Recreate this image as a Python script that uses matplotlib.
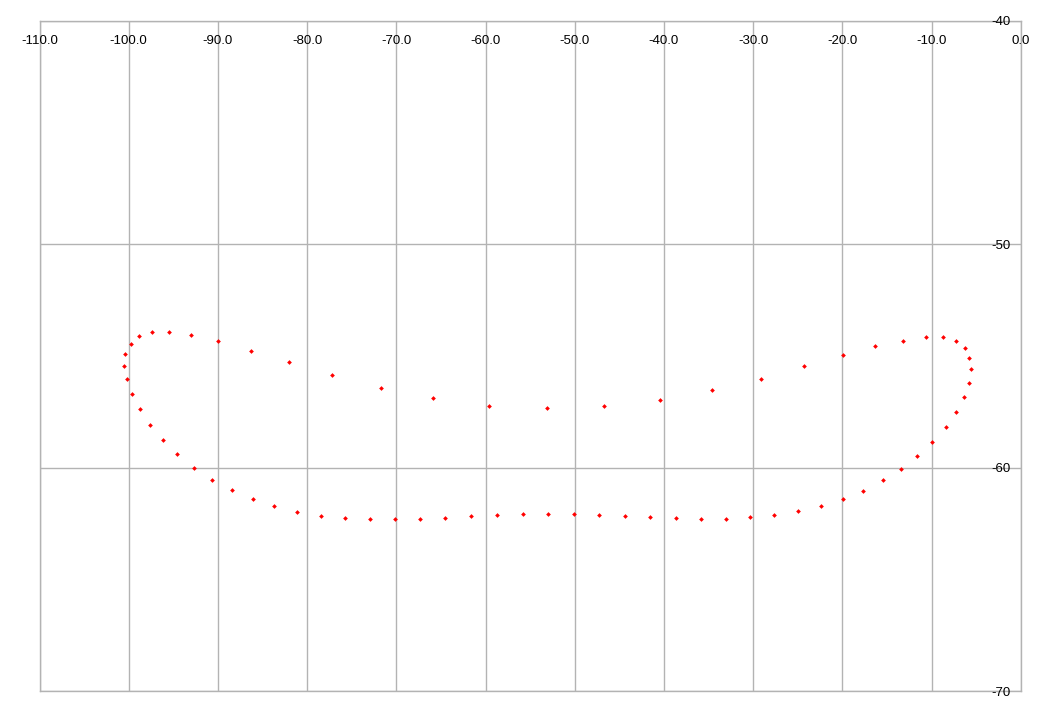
import matplotlib.pyplot as plt
from matplotlib.ticker import FormatStrFormatter, MultipleLocator

plt.rcParams['font.family'] = ['Liberation Sans', 'DejaVu Sans']

# points, going round the loop
x_vals = [-97.42, -95.51, -93.03, -90.00, -86.29, -82.02, -77.19, -71.72,
          -65.84, -59.58, -53.15, -46.74, -40.45, -34.61, -29.10, -24.27,
          -19.96, -16.29, -13.18, -10.67, -8.76, -7.30, -6.29, -5.82,
          -5.62, -5.84, -6.40, -7.30, -8.43, -9.89, -11.57, -13.37,
          -15.39, -17.64, -19.96, -22.36, -24.94, -27.64, -30.34, -33.03,
          -35.88, -38.65, -41.57, -44.38, -47.30, -50.11, -53.03, -55.84,
          -58.76, -61.64, -64.49, -67.30, -70.18, -72.96, -75.73, -78.43,
          -81.12, -83.66, -86.07, -88.43, -90.67, -92.70, -94.53, -96.18,
          -97.64, -98.76, -99.66, -100.22, -100.48, -100.37, -99.78, -98.88]
y_vals = [-53.93, -53.93, -54.06, -54.33, -54.77, -55.27, -55.85, -56.42,
          -56.88, -57.22, -57.33, -57.24, -56.97, -56.53, -56.03, -55.45,
          -54.96, -54.56, -54.30, -54.15, -54.15, -54.33, -54.65, -55.09,
          -55.59, -56.21, -56.84, -57.51, -58.18, -58.85, -59.48, -60.06,
          -60.56, -61.05, -61.41, -61.72, -61.94, -62.12, -62.21, -62.27,
          -62.29, -62.26, -62.21, -62.17, -62.12, -62.08, -62.08, -62.08,
          -62.12, -62.17, -62.26, -62.30, -62.30, -62.30, -62.26, -62.17,
          -61.99, -61.72, -61.41, -61.00, -60.56, -60.02, -59.39, -58.76,
          -58.09, -57.38, -56.71, -56.03, -55.44, -54.90, -54.47, -54.11]

x_range = [-110, 0]
y_range = [-70, -40]

W, H = 1051, 713
fig = plt.figure(figsize=(W / 100, H / 100), dpi=100)
ax = fig.add_axes([39.5 / W, (H - 691.3) / H, (1020.7 - 39.5) / W, (691.3 - 21) / H])

ax.plot(x_vals, y_vals, linestyle='none', marker='D', markersize=2.4,
        color='#ff0000', markeredgewidth=0, zorder=3)

ax.set_xlim(x_range)
ax.set_ylim(y_range)
ax.xaxis.set_major_locator(MultipleLocator(10))
ax.yaxis.set_major_locator(MultipleLocator(10))
ax.xaxis.set_major_formatter(FormatStrFormatter('%.1f'))
ax.yaxis.set_major_formatter(FormatStrFormatter('%d'))

# labels sit inside the frame: x along the top, y along the right
ax.xaxis.tick_top()
ax.yaxis.tick_right()
ax.tick_params(axis='x', length=0, pad=-18.5, labelsize=9.5)
ax.tick_params(axis='y', length=0, pad=-7, labelsize=9.5)
for lab in ax.get_yticklabels():
    lab.set_horizontalalignment('right')

ax.grid(True, color='#b3b3b3', linewidth=1)
ax.set_axisbelow(True)
for sp in ax.spines.values():
    sp.set_color('#b3b3b3')
    sp.set_linewidth(1)
    sp.set_zorder(0.2)

fig.savefig('out.png', dpi=100)
